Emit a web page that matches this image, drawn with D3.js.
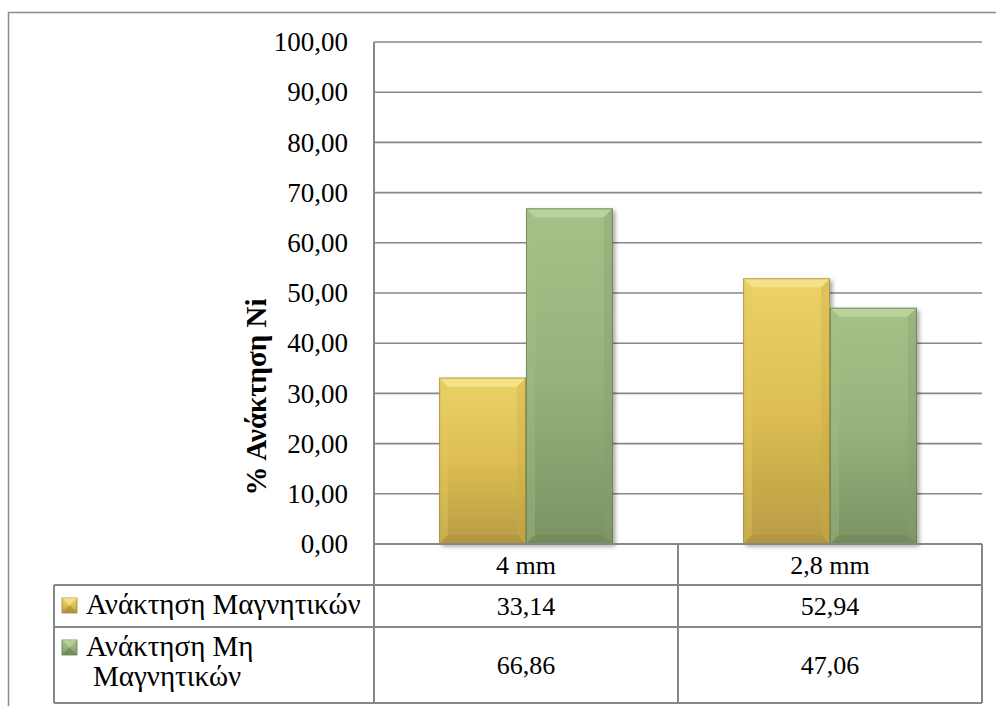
<!DOCTYPE html>
<html>
<head>
<meta charset="utf-8">
<script src="https://cdn.jsdelivr.net/npm/d3@7"></script>
<style>
  html, body { margin: 0; padding: 0; background: #fff; }
  svg { display: block; }
</style>
</head>
<body>
<svg id="chart" width="996" height="706" font-family="Liberation Serif"></svg>
<script>
// Nickel recovery per sieve fraction
const categories = ["4 mm", "2,8 mm"];
const seriesNames = ["Ανάκτηση Μαγνητικών", "Ανάκτηση Μη Μαγνητικών"];
const legendLines = [["Ανάκτηση Μαγνητικών"], ["Ανάκτηση Μη", "Μαγνητικών"]];
const magnetic = [33.14, 52.94];
const nonMagnetic = [66.86, 47.06];
const yTicks = [0, 10, 20, 30, 40, 50, 60, 70, 80, 90, 100];
const yTitle = "% Ανάκτηση Ni";

const series = [magnetic, nonMagnetic];
const FONT = "Liberation Serif";

// Greek-style number format: comma as decimal separator
const locale = d3.formatLocale({ decimal: ",", thousands: ".", grouping: [3], currency: ["", "€"] });
const fmt = locale.format(".2f");

const svg = d3.select("#chart");

// layout
const plot = { left: 374, right: 982, top: 42, bottom: 544 };
const table = { left: 54, rowHeader: 544, row1: 585, row2: 627, bottom: 703 };

const palette = [
  { top: "#ecd267", mid: "#dcbe52", bottom: "#b99c44", bevelTop: "#f5e48f", bevelL: "#e6cb5e", bevelR: "#c9ac48", bevelB: "#a98e3d", edge: "#9c8432" },
  { top: "#a6c188", mid: "#98b27b", bottom: "#7b9363", bevelTop: "#bcd49e", bevelL: "#a5bf88", bevelR: "#879f6c", bevelB: "#6e8558", edge: "#637a4c" }
];

const defs = svg.append("defs");
palette.forEach((p, i) => {
  const g = defs.append("linearGradient").attr("id", "grad" + i)
    .attr("x1", 0).attr("y1", 0).attr("x2", 0).attr("y2", 1);
  g.append("stop").attr("offset", "0%").attr("stop-color", p.top);
  g.append("stop").attr("offset", "50%").attr("stop-color", p.mid);
  g.append("stop").attr("offset", "100%").attr("stop-color", p.bottom);
});
const shadow = defs.append("filter").attr("id", "shadow")
  .attr("x", "-20%").attr("y", "-5%").attr("width", "150%").attr("height", "120%");
shadow.append("feDropShadow").attr("dx", 2.5).attr("dy", 2.5).attr("stdDeviation", 2.2)
  .attr("flood-color", "#000").attr("flood-opacity", 0.35);

// outer chart frame
svg.append("rect")
  .attr("x", 8.5).attr("y", 12.5).attr("width", 1200).attr("height", 1200)
  .attr("fill", "#fff").attr("stroke", "#8a8a8a").attr("stroke-width", 1.5);

// scales
const x = d3.scaleBand().domain(categories).range([plot.left, plot.right]).paddingInner(0).paddingOuter(0);
const xs = d3.scaleBand().domain(d3.range(series.length)).range([0, x.bandwidth()]).paddingInner(0).paddingOuter(0.75);
const y = d3.scaleLinear().domain([0, 100]).range([plot.bottom, plot.top]);

// gridlines
svg.append("g").selectAll("line").data(yTicks.filter(t => t > 0)).join("line")
  .attr("x1", plot.left).attr("x2", plot.right)
  .attr("y1", d => y(d)).attr("y2", d => y(d))
  .attr("stroke", "#878787").attr("stroke-width", 1.6);

// y axis tick labels
const yAxis = svg.append("g").attr("transform", `translate(${plot.left},0)`)
  .call(d3.axisLeft(y).tickValues(yTicks).tickFormat(fmt).tickSize(0).tickPadding(26));
yAxis.select(".domain").remove();
yAxis.attr("font-family", FONT).attr("font-size", 27);
yAxis.selectAll("text").style("font-family", FONT).style("font-size", "27px").attr("fill", "#000");

// y title
svg.append("text")
  .attr("transform", `translate(256,397) rotate(-90)`)
  .attr("text-anchor", "middle").attr("dominant-baseline", "central")
  .attr("font-family", FONT).style("font-family", FONT)
  .style("font-size", "29px").style("font-weight", "bold")
  .text(yTitle);

// bars with angled bevel
function drawBar(g, x0, x1, y0, y1, p, i) {
  const b = Math.min(9, (x1 - x0) / 2, (y1 - y0) / 2);
  g.append("rect").attr("x", x0).attr("y", y0).attr("width", x1 - x0).attr("height", y1 - y0)
    .attr("fill", `url(#grad${i})`).attr("filter", "url(#shadow)");
  const poly = (pts, fill, op) => g.append("polygon")
    .attr("points", pts.map(d => d.join(",")).join(" ")).attr("fill", fill).attr("opacity", op);
  poly([[x0, y0], [x1, y0], [x1 - b, y0 + b], [x0 + b, y0 + b]], p.bevelTop, 0.9);
  poly([[x0, y0], [x0 + b, y0 + b], [x0 + b, y1 - b], [x0, y1]], p.bevelL, 0.35);
  poly([[x1, y0], [x1 - b, y0 + b], [x1 - b, y1 - b], [x1, y1]], p.bevelR, 0.35);
  poly([[x0, y1], [x0 + b, y1 - b], [x1 - b, y1 - b], [x1, y1]], p.bevelB, 0.5);
  g.append("rect").attr("x", x0 + 0.5).attr("y", y0 + 0.5).attr("width", x1 - x0 - 1).attr("height", y1 - y0 - 1)
    .attr("fill", "none").attr("stroke", p.edge).attr("stroke-width", 1).attr("opacity", 0.7);
}

const barsG = svg.append("g");
series.forEach((vals, si) => {
  vals.forEach((v, ci) => {
    const x0 = x(categories[ci]) + xs(si);
    drawBar(barsG.append("g"), x0, x0 + xs.bandwidth(), y(v), y(0), palette[si], si);
  });
});

// data table
const lineColor = "#878787";
const tg = svg.append("g").attr("stroke", lineColor).attr("stroke-width", 2).attr("fill", "none");
const hline = (x1, x2, yy) => tg.append("line").attr("x1", x1).attr("x2", x2).attr("y1", yy).attr("y2", yy);
const vline = (xx, y1, y2) => tg.append("line").attr("x1", xx).attr("x2", xx).attr("y1", y1).attr("y2", y2);

vline(plot.left, plot.top, table.bottom);
hline(plot.left, plot.right, table.rowHeader);
hline(table.left, plot.right, table.row1);
hline(table.left, plot.right, table.row2);
hline(table.left, plot.right, table.bottom);
vline(table.left, table.row1, table.bottom);
categories.forEach((c, i) => { if (i > 0) vline(x(c), table.rowHeader, table.bottom); });
vline(plot.right, table.rowHeader, table.bottom);

const numSize = "26px";
const legendSize = "29px";
// category header
svg.append("g").selectAll("text").data(categories).join("text")
  .attr("x", d => x(d) + x.bandwidth() / 2).attr("y", (table.rowHeader + table.row1) / 2 + 9)
  .attr("text-anchor", "middle")
  .attr("font-family", FONT).style("font-family", FONT).style("font-size", numSize).text(d => d);

const rowsY = [[table.row1, table.row2], [table.row2, table.bottom]];
series.forEach((vals, si) => {
  const [r0, r1] = rowsY[si];
  svg.append("g").selectAll("text").data(vals).join("text")
    .attr("x", (d, ci) => x(categories[ci]) + x.bandwidth() / 2).attr("y", (r0 + r1) / 2 + 9)
    .attr("text-anchor", "middle")
    .attr("font-family", FONT).style("font-family", FONT).style("font-size", numSize).text(d => fmt(d));

  // legend key
  const p = palette[si];
  const kx = 62, ky = r0 + 13, ks = 15;
  const kg = svg.append("g");
  kg.append("rect").attr("x", kx).attr("y", ky).attr("width", ks).attr("height", ks)
    .attr("fill", `url(#grad${si})`).attr("stroke", p.edge).attr("stroke-width", 0.8);
  kg.append("polygon").attr("points", `${kx},${ky} ${kx + ks},${ky} ${kx + ks / 2},${ky + ks / 2}`)
    .attr("fill", p.bevelTop).attr("opacity", 0.8);
  kg.append("polygon").attr("points", `${kx},${ky + ks} ${kx + ks},${ky + ks} ${kx + ks / 2},${ky + ks / 2}`)
    .attr("fill", p.bevelB).attr("opacity", 0.7);

  legendLines[si].forEach((ln, li) => {
    svg.append("text")
      .attr("x", li === 0 ? 86 : 93).attr("y", r0 + 29 + li * 30)
      .attr("font-family", FONT).style("font-family", FONT).style("font-size", legendSize).text(ln);
  });
});
</script>
</body>
</html>
